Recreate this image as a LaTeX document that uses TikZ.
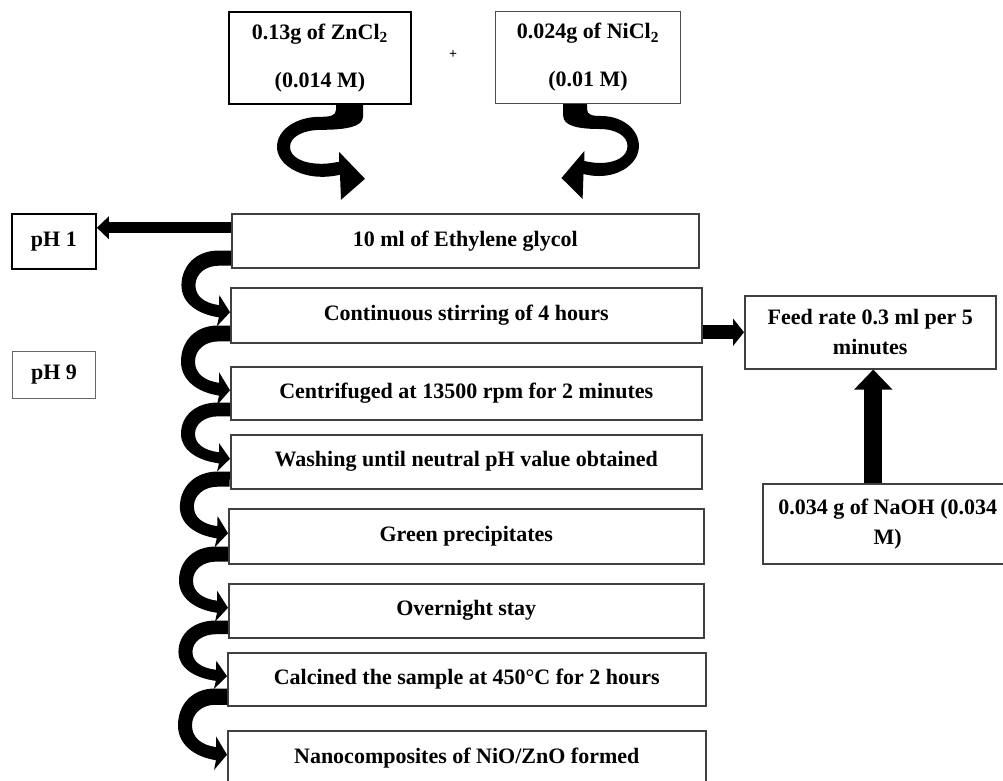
\documentclass[tikz,border=0pt]{standalone}
\usepackage{fontspec}
\setmainfont{Liberation Serif}
\usetikzlibrary{calc,arrows.meta}
\tikzset{
  box/.style={draw=black!75, line width=1.5pt, fill=white, inner sep=0pt,
    anchor=north west, align=center, font=\bfseries\fontsize{22}{26}\selectfont},
  topbox/.style={box, font=\bfseries\fontsize{22}{48}\selectfont},
  sidebox/.style={box, font=\bfseries\fontsize{22}{30}\selectfont},
  fatarrow/.style={draw=black, line cap=butt},
}
\newcommand\curlarrow[2]{%
  \coordinate (cS) at ($(#1.south west)+(0,-18)$);
  \coordinate (cT) at ($(#2.west)+(0,-3)$);
  \fill[black] (cS) -- ($(cS)+(-12,0)$)
    .. controls ($(cS)+(-35,0)$) and ($(cS)!0.246!(cT)+(-49,0)$) .. ($(cS)!0.557!(cT)+(-49,0)$)
    .. controls ($(cS)!0.852!(cT)+(-49,0)$) and ($(cS)!1.033!(cT)+(-32,0)$) .. ($(cS)!1.082!(cT)+(-11,0)$)
    -- ($(cS)!1.23!(cT)+(-13,0)$) -- (cT) -- ($(cS)!0.721!(cT)+(-11,0)$)
    -- ($(cS)!0.885!(cT)+(-11,0)$)
    .. controls ($(cS)!0.852!(cT)+(-26,0)$) and ($(cS)!0.738!(cT)+(-35,0)$) .. ($(cS)!0.557!(cT)+(-35,0)$)
    .. controls ($(cS)!0.377!(cT)+(-35,0)$) and ($(cS)!0.246!(cT)+(-25,0)$) .. ($(cS)!0.246!(cT)+(-12,0)$)
    -- ($(cS)!0.246!(cT)$) -- cycle;
}
\newcommand\topcurl{%
  (0,0) -- (0,5) .. controls (0,11) and (-6,12) .. (-16,12)
  .. controls (-40,12) and (-59,25) .. (-59,42)
  .. controls (-59,59) and (-38,72) .. (-14,72)
  .. controls (-6,72) and (-1,71) .. (4,70)
  -- (5,95) -- (29,74) -- (3,47) -- (3,57)
  .. controls (-3,58) and (-8,59) .. (-14,59)
  .. controls (-34,59) and (-46,52) .. (-46,42)
  .. controls (-46,32) and (-33,25) .. (-14,25)
  .. controls (9,25) and (27,22) .. (27,12) -- (27,0) -- cycle
}
\begin{document}
\begin{tikzpicture}[x=1pt,y=-1pt]
\useasboundingbox (0,0) rectangle (1003,780);
% top boxes
\node[topbox, line width=1.8pt, draw=black, minimum width=182pt, minimum height=92pt] (zn) at (228,11)
  {0.13g of ZnCl\textsubscript{2}\\(0.014 M)};
\node[topbox, line width=1pt, draw=black!70, minimum width=185pt, minimum height=92pt] (ni) at (495,11)
  {0.024g of NiCl\textsubscript{2}\\(0.01 M)};
\node[font=\bfseries\fontsize{14}{16}\selectfont] (plus) at (453,55) {+};
% pH boxes
\node[box, draw=black, line width=1.8pt, minimum width=84pt, minimum height=55pt] (ph1) at (11,213) {pH 1};
\node[box, draw=black!60, line width=1pt, minimum width=83pt, minimum height=47pt] (ph9) at (12,351) {pH 9};
% main column
\node[box, minimum width=467pt, minimum height=54pt] (eth) at (231,213) {10 ml of Ethylene glycol};
\node[box, minimum width=471pt, minimum height=55pt] (cont) at (230,287) {Continuous stirring of 4 hours};
\node[box, minimum width=471pt, minimum height=53pt] (cent) at (230,366) {Centrifuged at 13500 rpm for 2 minutes};
\node[box, minimum width=471pt, minimum height=54pt] (wash) at (230,434) {Washing until neutral pH value obtained};
\node[box, minimum width=475pt, minimum height=55pt] (green) at (228,508) {Green precipitates};
\node[box, minimum width=475pt, minimum height=54pt] (over) at (228,583) {Overnight stay};
\node[box, minimum width=478pt, minimum height=53pt] (calc) at (227,652) {Calcined the sample at 450°C for 2 hours};
\node[box, minimum width=478pt, minimum height=54pt] (nano) at (227,730) {Nanocomposites of NiO/ZnO formed};
% right boxes
\node[sidebox, minimum width=251pt, minimum height=73pt] (feed) at (744,295) {Feed rate 0.3 ml per 5\\minutes};
\node[sidebox, minimum width=250pt, minimum height=80pt] (naoh) at (762,483) {0.034 g of NaOH (0.034\\M)};
% top curved arrows
\fill[black, shift={($(zn.south west)+(108,0)$)}] \topcurl;
\fill[black, shift={($(ni.south west)+(92,0)$)}, xscale=-0.88] \topcurl;
% left curled arrows
\curlarrow{eth}{cont}
\curlarrow{cont}{cent}
\curlarrow{cent}{wash}
\curlarrow{wash}{green}
\curlarrow{green}{over}
\curlarrow{over}{calc}
\curlarrow{calc}{nano}
% straight arrows
\coordinate (a1) at ($(eth.west)+(0,-13)$);
\draw[fatarrow, line width=11pt, -{Triangle[length=12pt,width=22pt]}] (a1) -- (ph1.east |- a1);
\coordinate (a2) at (cont.east |- feed.west);
\draw[fatarrow, line width=14pt, -{Triangle[length=11pt,width=27pt]}] (a2) -- (feed.west);
\coordinate (a3) at ($(feed.south)+(3,0)$);
\draw[fatarrow, line width=18pt, -{Triangle[length=20pt,width=37pt]}] (a3 |- naoh.north) -- (a3);
\end{tikzpicture}
\end{document}
